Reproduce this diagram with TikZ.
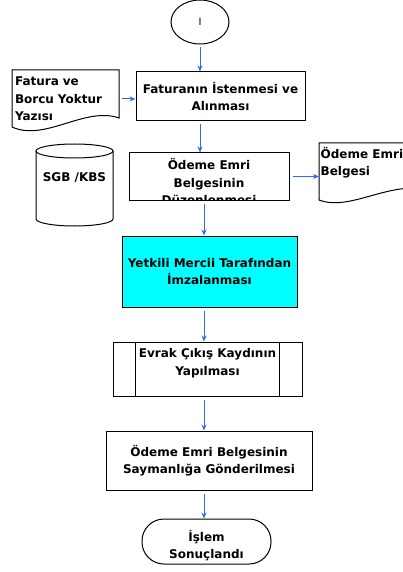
\documentclass[tikz,border=0pt]{standalone}
\usepackage{fontspec}
\setmainfont{DejaVu Sans}
\usetikzlibrary{shapes.geometric,arrows.meta}
\definecolor{akis}{RGB}{51,102,255}
\definecolor{onay}{RGB}{0,255,255}
\newcommand{\yazitipi}{\bfseries\fontsize{12}{17.5}\selectfont}
\tikzset{
  kutu/.style={draw, line width=1pt, inner sep=0pt, align=center, font=\yazitipi},
  yazi/.style={inner sep=0pt, align=center, font=\yazitipi},
  ok/.style={draw=akis, line width=1pt, -{Stealth[length=6pt,width=5pt]}, shorten <=3pt},
}

\begin{document}
\begin{tikzpicture}[x=1pt,y=-1pt]
\useasboundingbox (0,0) rectangle (403,572);
\clip (0,0) rectangle (403,572);

\coordinate (ust) at (200,0);
\coordinate (alt) at (204,0);

\node[ellipse, draw, line width=1pt, minimum width=58pt, minimum height=44pt, inner sep=0pt, font=\fontsize{10}{12}\selectfont] (bas) at (200,22) {I};

\node[kutu, minimum width=169pt, minimum height=49pt] (fatura) at (220.5,96.5) {Faturanın İstenmesi ve\\Alınması};

\draw[line width=1pt] (12,70) -- (119,70) -- (119,118) .. controls (85,106) and (45,142) .. (12,127) -- cycle;
\node[inner xsep=3pt, inner ysep=0pt, text width=101pt, align=left, font=\yazitipi, minimum height=58pt] (yazi) at (65.5,99) {Fatura ve\\Borcu Yoktur\\Yazısı};

\draw[line width=1pt] (74.5,151) ellipse [x radius=38.5, y radius=7];
\draw[line width=1pt] (36,151) -- (36,219) arc [start angle=180, end angle=0, x radius=38.5, y radius=7] -- (113,151);
\node[yazi] (veri) at (74.5,178) {SGB /KBS};

\node[kutu, minimum width=160pt, minimum height=47pt] (duzen) at (209,176.5) {};
\begin{scope}
\clip (duzen.south west) rectangle (duzen.north east);
\node[yazi] (duzenyazi) at (209,182) {Ödeme Emri\\Belgesinin\\Düzenlenmesi};
\end{scope}

\draw[line width=1pt] (319,143) -- (430,143) -- (430,190) .. controls (390,180) and (350,212) .. (319,200) -- cycle;
\node[anchor=north west, inner xsep=1.5pt, inner ysep=0pt, align=left, font=\yazitipi] (belge) at (319,147) {Ödeme Emri\\Belgesi};

\node[kutu, fill=onay, minimum width=175pt, minimum height=71pt] (imza) at (209.5,271.5) {Yetkili Mercii Tarafından\\İmzalanması};

\node[kutu, minimum width=189pt, minimum height=54pt] (evrak) at (207.5,369) {};
\draw[line width=1pt] ([xshift=23pt]evrak.north west) -- ([xshift=23pt]evrak.south west);
\draw[line width=1pt] ([xshift=-23pt]evrak.north east) -- ([xshift=-23pt]evrak.south east);
\node[yazi] (evrakyazi) at (207.5,363) {Evrak Çıkış Kaydının\\Yapılması};

\node[kutu, minimum width=206pt, minimum height=59pt] (gonder) at (209,460.5) {Ödeme Emri Belgesinin\\Saymanlığa Gönderilmesi};

\node[draw, line width=1pt, rounded corners=22pt, minimum width=129pt, minimum height=45pt] (son) at (206.5,541.5) {};
\begin{scope}
\clip[rounded corners=22pt] (son.south west) rectangle (son.north east);
\node[yazi] (sonyazi) at (206.5,545.5) {İşlem\\Sonuçlandı};
\end{scope}

\draw[ok] (bas) -- (bas |- fatura.north);
\draw[ok] (fatura.south -| ust) -- (duzen.north -| ust);
\draw[ok] (duzen.south -| alt) -- (imza.north -| alt);
\draw[ok] (imza.south -| alt) -- (evrak.north -| alt);
\draw[ok] (evrak.south -| alt) -- (gonder.north -| alt);
\draw[ok] (gonder.south -| alt) -- (son.north -| alt);
\draw[ok] (yazi.east) -- (fatura.west |- yazi.east);
\draw[ok] (duzen.east) -- (belge.west |- duzen.east);

\end{tikzpicture}
\end{document}
